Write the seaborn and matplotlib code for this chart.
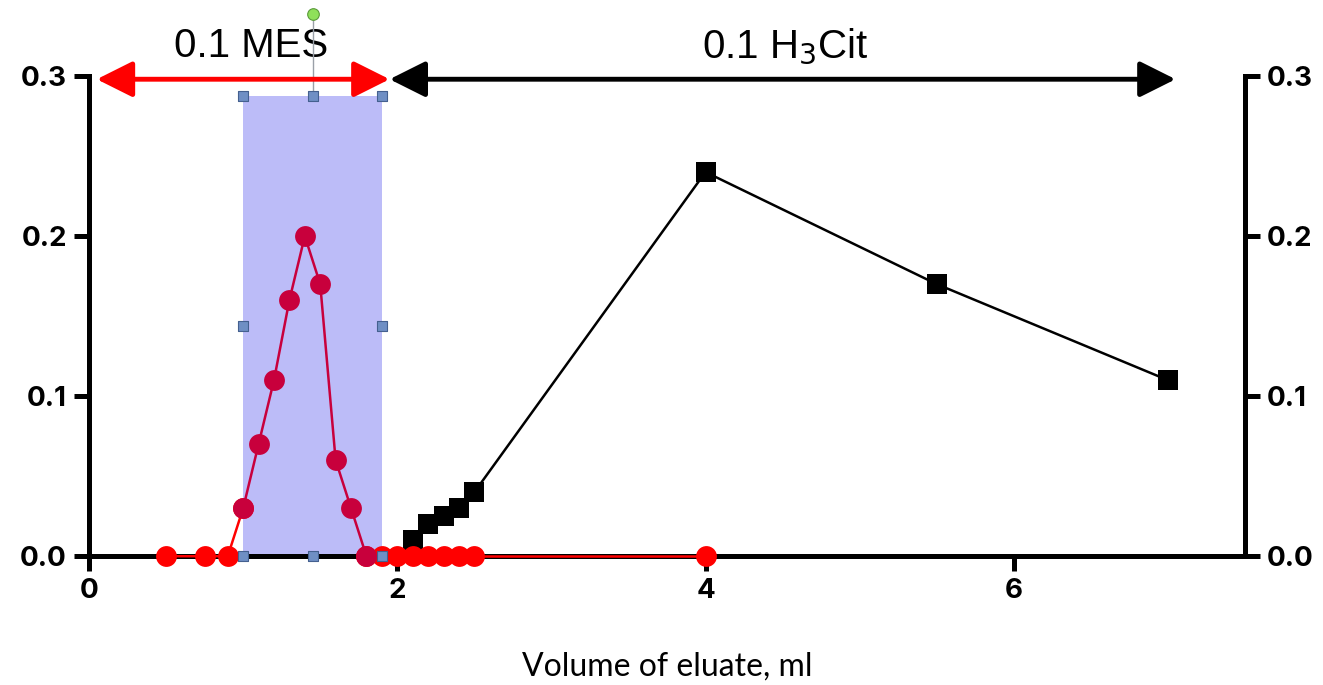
import matplotlib
matplotlib.use("Agg")
import matplotlib.pyplot as plt
import seaborn as sns
import pandas as pd
from matplotlib.patches import Rectangle

# ---- data ----
red_left_x = [0.5, 0.75, 0.9, 1.0]
red_left_y = [0.0, 0.0, 0.0, 0.03]
red_right_x = [1.8, 1.9, 2.0, 2.1, 2.2, 2.3, 2.4, 2.5, 4.0]
red_right_y = [0.0, 0.0, 0.0, 0.0, 0.0, 0.0, 0.0, 0.0, 0.0]
peak_x = [1.0, 1.1, 1.2, 1.3, 1.4, 1.5, 1.6, 1.7, 1.8]
peak_y = [0.03, 0.07, 0.11, 0.16, 0.20, 0.17, 0.06, 0.03, 0.0]
cit_x = [2.1, 2.2, 2.3, 2.4, 2.5, 4.0, 5.5, 7.0]
cit_y = [0.01, 0.02, 0.025, 0.03, 0.04, 0.24, 0.17, 0.11]
x_ticks = [0, 2, 4, 6]
y_ticks = [0.0, 0.1, 0.2, 0.3]
y_labels = ["0.0", "0.1", "0.2", "0.3"]
band = (1.0, 1.9, 0.2875)
mes_range = (0.05, 1.95)
cit_range = (1.95, 7.05)
arrow_y = 0.298

sns.set_theme(style="white")
plt.rcParams['font.family'] = ['Liberation Sans', 'DejaVu Sans']
plt.rcParams['text.color'] = 'black'
plt.rcParams['xtick.color'] = 'black'
plt.rcParams['ytick.color'] = 'black'
plt.rcParams['axes.labelcolor'] = 'black'

fig = plt.figure(figsize=(13.23, 6.85), dpi=100)
ax = fig.add_axes([0.0673, 0.188, 0.8737, 0.701])

# shaded band
ax.add_patch(Rectangle((band[0], 0), band[1] - band[0], band[2],
                       facecolor="#bcbcf8", edgecolor="none", zorder=1))

mk = dict(marker="o", markersize=15, markeredgewidth=0, linewidth=1.8,
          sort=False, clip_on=False)
sns.lineplot(x=red_left_x, y=red_left_y, ax=ax, color="#ff0000", zorder=4, **mk)
sns.lineplot(x=red_right_x, y=red_right_y, ax=ax, color="#ff0000", zorder=4, **mk)
sns.lineplot(x=peak_x, y=peak_y, ax=ax, color="#c8003c", zorder=5, **mk)
sns.lineplot(x=cit_x, y=cit_y, ax=ax, color="black", marker="s",
             markersize=14, markeredgewidth=0, linewidth=1.8, sort=False,
             zorder=3, clip_on=False)

# selection handles (as in reference)
hx = [band[0], (band[0] + band[1]) / 2, band[1]]
handles_x = hx + [band[0], band[1]] + hx
handles_y = [band[2]] * 3 + [band[2] / 2] * 2 + [0] * 3
ax.plot([hx[1], hx[1]], [band[2], 0.339], color="#9aa0a8", lw=1,
        clip_on=False, zorder=6)
ax.scatter(handles_x, handles_y, marker="s", s=60, color="#6f8fc4",
           edgecolor="#44608f", linewidth=0.8, zorder=7, clip_on=False)
ax.scatter([hx[1]], [0.339], marker="o", s=70, color="#8fe05a",
           edgecolor="#5a9a3a", linewidth=0.8, zorder=7, clip_on=False)

# arrows
for rng, col in [(mes_range, "#ff0000"), (cit_range, "black")]:
    ax.annotate("", xy=(rng[0], arrow_y), xytext=(rng[1], arrow_y),
                arrowprops=dict(arrowstyle="<|-|>,head_length=1.1,head_width=0.55",
                                color=col, lw=3.5, mutation_scale=20,
                                shrinkA=0, shrinkB=0),
                annotation_clip=False, zorder=8)
ax.text(1.05, 0.319, "0.1 MES", fontsize=29, ha="center", va="center",
        clip_on=False)
ax.text(4.52, 0.319, "0.1 H$_3$Cit", fontsize=29, ha="center", va="center",
        clip_on=False)

ax.set_xlim(0, 7.5)
ax.set_ylim(0, 0.3)
ax.set_xticks(x_ticks)
ax.set_xticklabels([str(t) for t in x_ticks], fontsize=20, fontweight="bold",
                   family="Inter")
ax.set_yticks(y_ticks)
ax.set_yticklabels(y_labels, fontsize=20, fontweight="bold", family="Inter")

ax.spines["top"].set_visible(False)
for s in ["left", "right", "bottom"]:
    ax.spines[s].set_visible(True)
    ax.spines[s].set_linewidth(3.6)
    ax.spines[s].set_color("black")

ax.tick_params(axis="both", which="both", direction="out", length=11,
               width=3.6, color="black", pad=5)
ax.tick_params(axis="y", left=True, right=True, labelleft=True,
               labelright=True)
ax.tick_params(axis="x", bottom=True)

ax.set_xlabel("Volume of eluate, ml", fontsize=23, family=["Lato", "DejaVu Sans"],
              labelpad=34)

fig.savefig("out.png", dpi=100)
